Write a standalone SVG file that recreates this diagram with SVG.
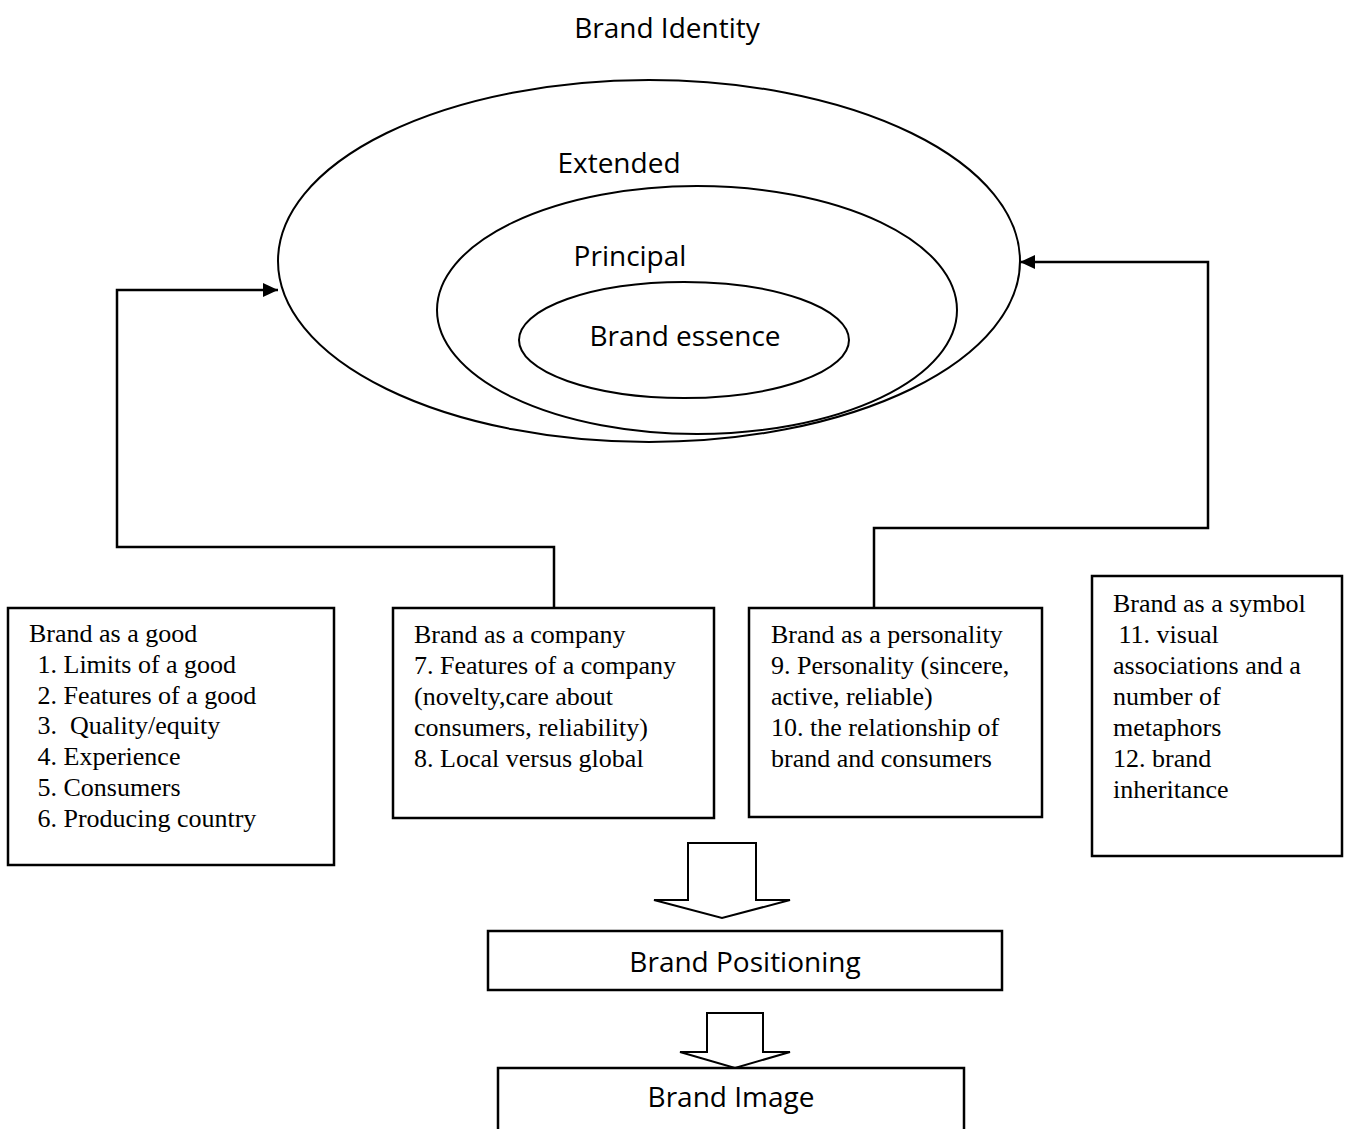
<svg xmlns="http://www.w3.org/2000/svg" width="1349" height="1129" viewBox="0 0 1349 1129">
<style>
.sans{font-family:"Open Sans","Liberation Sans",sans-serif;font-size:28px;fill:#000;text-anchor:middle}
.serif{font-family:"Liberation Serif","Times New Roman",serif;font-size:26px;fill:#000;white-space:pre}
.ell{fill:none;stroke:#000;stroke-width:2}
.box{fill:#fff;stroke:#000;stroke-width:2.5}
.conn{fill:none;stroke:#000;stroke-width:2.5}
.blk{fill:#fff;stroke:#000;stroke-width:2;stroke-linejoin:miter}
</style>
<defs>
<marker id="ah" markerWidth="15" markerHeight="14" refX="15" refY="7" orient="auto" markerUnits="userSpaceOnUse">
<path d="M0,0 L15,7 L0,14 Z" fill="#000"/>
</marker>
</defs>
<rect width="1349" height="1129" fill="#fff"/>
<text class="sans" x="667" y="38">Brand Identity</text>
<g id="extended">
<ellipse class="ell" cx="649" cy="261" rx="371" ry="181"/>
<text class="sans" x="619" y="173">Extended</text>
</g>
<g id="principal">
<ellipse class="ell" cx="697" cy="310" rx="260" ry="124"/>
<text class="sans" x="630" y="266">Principal</text>
</g>
<g id="essence">
<ellipse class="ell" cx="684" cy="340" rx="165" ry="58"/>
<text class="sans" x="685" y="346">Brand essence</text>
</g>
<g id="connectors">
<polyline class="conn" points="554,608 554,547 117,547 117,290 278,290" marker-end="url(#ah)"/>
<polyline class="conn" points="874,608 874,528 1208,528 1208,262 1020,262" marker-end="url(#ah)"/>
<polygon class="blk" points="688,843 756,843 756,900 790,900 722,918 654,900 688,900"/>
<polygon class="blk" points="707,1013 763,1013 763,1052 790,1052 735,1068 680,1052 707,1052"/>
</g>
<g id="good">
<rect class="box" x="8" y="608" width="326" height="257"/>
<text class="serif" x="29" y="642">Brand as a good</text>
<text class="serif" x="31" y="673"> 1. Limits of a good</text>
<text class="serif" x="31" y="704"> 2. Features of a good</text>
<text class="serif" x="31" y="734"> 3.  Quality/equity</text>
<text class="serif" x="31" y="765"> 4. Experience</text>
<text class="serif" x="31" y="796"> 5. Consumers</text>
<text class="serif" x="31" y="827"> 6. Producing country</text>
</g>
<g id="company">
<rect class="box" x="393" y="608" width="321" height="210"/>
<text class="serif" x="414" y="643">Brand as a company</text>
<text class="serif" x="414" y="674">7. Features of a company</text>
<text class="serif" x="414" y="705">(novelty,care about</text>
<text class="serif" x="414" y="736">consumers, reliability)</text>
<text class="serif" x="414" y="767">8. Local versus global</text>
</g>
<g id="personality">
<rect class="box" x="749" y="608" width="293" height="209"/>
<text class="serif" x="771" y="643">Brand as a personality</text>
<text class="serif" x="771" y="674">9. Personality (sincere,</text>
<text class="serif" x="771" y="705">active, reliable)</text>
<text class="serif" x="771" y="736">10. the relationship of</text>
<text class="serif" x="771" y="767">brand and consumers</text>
</g>
<g id="symbol">
<rect class="box" x="1092" y="576" width="250" height="280"/>
<text class="serif" x="1113" y="612">Brand as a symbol</text>
<text class="serif" x="1112" y="643"> 11. visual</text>
<text class="serif" x="1113" y="674">associations and a</text>
<text class="serif" x="1113" y="705">number of</text>
<text class="serif" x="1113" y="736">metaphors</text>
<text class="serif" x="1113" y="767">12. brand</text>
<text class="serif" x="1113" y="798">inheritance</text>
</g>
<g id="positioning">
<rect class="box" x="488" y="931" width="514" height="59"/>
<text class="sans" x="745" y="972">Brand Positioning</text>
</g>
<g id="image">
<rect class="box" x="498" y="1068" width="466" height="70"/>
<text class="sans" x="731" y="1107">Brand Image</text>
</g>
</svg>
